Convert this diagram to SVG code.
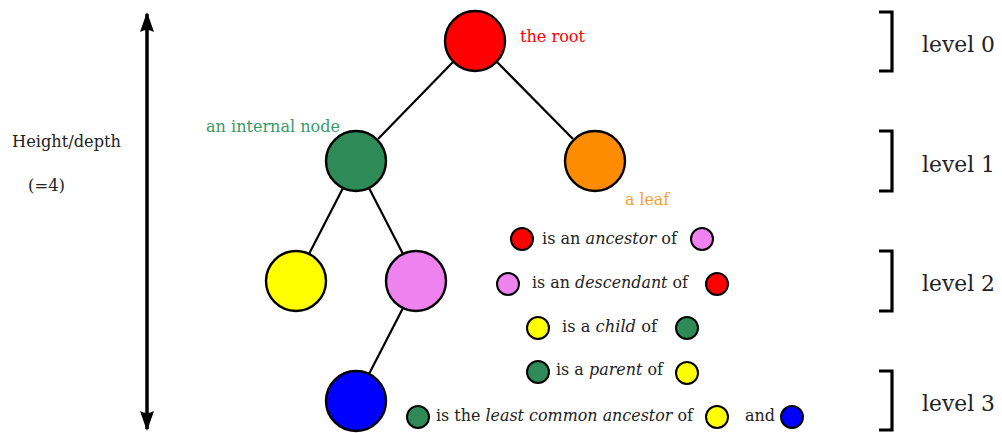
<svg xmlns="http://www.w3.org/2000/svg" width="1002" height="433" viewBox="0 0 1002 433">
<style>
.n{stroke:#000;stroke-width:2.4}
.s{stroke:#000;stroke-width:2}
.e{stroke:#000;stroke-width:2.2;fill:none}
text{font-family:'DejaVu Serif', 'Liberation Serif', serif}
.t{font-size:16px;fill:#222}
.l{font-size:23px;fill:#222}
.b{stroke:#000;stroke-width:3.2;fill:none}
</style>
<defs>
<marker id="ah" viewBox="0 0 20 14" refX="18" refY="7" markerWidth="20" markerHeight="14" markerUnits="userSpaceOnUse" orient="auto-start-reverse">
<path d="M0,0 L20,7 L0,14 Q4,7 0,0 Z" fill="#000"/>
</marker>
</defs>
<rect width="1002" height="433" fill="#fff"/>
<g id="connectors">
<line class="e" x1="453" y1="62" x2="378" y2="139"/>
<line class="e" x1="497" y1="62" x2="573" y2="139"/>
<line class="e" x1="343" y1="188" x2="309" y2="254"/>
<line class="e" x1="369" y1="188" x2="403" y2="254"/>
<line class="e" x1="403" y1="308" x2="369" y2="374"/>
</g>
<g id="height-arrow">
<line x1="147" y1="14" x2="147" y2="429" stroke="#000" stroke-width="3.5" marker-start="url(#ah)" marker-end="url(#ah)"/>
<text class="t" x="12" y="147" textLength="109" lengthAdjust="spacingAndGlyphs">Height/depth</text>
<text class="t" x="28" y="191" textLength="37" lengthAdjust="spacingAndGlyphs">(=4)</text>
</g>
<g id="root"><circle class="n" cx="475" cy="41" r="30" fill="#FF0000"/>
<text class="t" x="520" y="42" style="fill:#FF0000" textLength="65" lengthAdjust="spacingAndGlyphs">the root</text></g>
<g id="internal"><circle class="n" cx="356" cy="161" r="30" fill="#2E8B57"/>
<text class="t" x="206" y="132" style="fill:#3A9A64" textLength="134" lengthAdjust="spacingAndGlyphs">an internal node</text></g>
<g id="leaf"><circle class="n" cx="595" cy="161" r="30" fill="#FF8C00"/>
<text class="t" x="625" y="205" style="fill:#F7A030" textLength="44" lengthAdjust="spacingAndGlyphs">a leaf</text></g>
<g id="yellow"><circle class="n" cx="296" cy="281" r="30" fill="#FFFF00"/></g>
<g id="violet"><circle class="n" cx="416" cy="281" r="30" fill="#EE82EE"/></g>
<g id="blue"><circle class="n" cx="356" cy="401" r="30" fill="#0000FF"/></g>
<g id="legend">
<circle class="s" cx="522" cy="239" r="11" fill="#FF0000"/>
<text class="t" x="542" y="244" textLength="135" lengthAdjust="spacingAndGlyphs">is an <tspan font-style="italic">ancestor</tspan> of</text>
<circle class="s" cx="702" cy="239" r="11" fill="#EE82EE"/>
<circle class="s" cx="508" cy="284" r="11" fill="#EE82EE"/>
<text class="t" x="532" y="288" textLength="156" lengthAdjust="spacingAndGlyphs">is an <tspan font-style="italic">descendant</tspan> of</text>
<circle class="s" cx="717" cy="284" r="11" fill="#FF0000"/>
<circle class="s" cx="538" cy="328" r="11" fill="#FFFF00"/>
<text class="t" x="562" y="332" textLength="95" lengthAdjust="spacingAndGlyphs">is a <tspan font-style="italic">child</tspan> of</text>
<circle class="s" cx="687" cy="328" r="11" fill="#2E8B57"/>
<circle class="s" cx="538" cy="372" r="11" fill="#2E8B57"/>
<text class="t" x="556" y="375" textLength="107" lengthAdjust="spacingAndGlyphs">is a <tspan font-style="italic">parent</tspan> of</text>
<circle class="s" cx="687" cy="373" r="11" fill="#FFFF00"/>
<circle class="s" cx="418" cy="417" r="11" fill="#2E8B57"/>
<text class="t" x="436" y="421" textLength="257" lengthAdjust="spacingAndGlyphs">is the <tspan font-style="italic">least common ancestor</tspan> of</text>
<circle class="s" cx="717" cy="417" r="11" fill="#FFFF00"/>
<text class="t" x="745" y="421" textLength="30" lengthAdjust="spacingAndGlyphs">and</text>
<circle class="s" cx="792" cy="417" r="11" fill="#0000FF"/>
</g>
<g id="levels">
<path class="b" d="M879,12 H892 V71 H879"/>
<text class="l" x="922" y="52" textLength="73" lengthAdjust="spacingAndGlyphs">level 0</text>
<path class="b" d="M879,131 H892 V191 H879"/>
<text class="l" x="922" y="172" textLength="73" lengthAdjust="spacingAndGlyphs">level 1</text>
<path class="b" d="M879,251 H892 V311 H879"/>
<text class="l" x="922" y="291" textLength="73" lengthAdjust="spacingAndGlyphs">level 2</text>
<path class="b" d="M879,371 H892 V430 H879"/>
<text class="l" x="922" y="411" textLength="73" lengthAdjust="spacingAndGlyphs">level 3</text>
</g>
</svg>
